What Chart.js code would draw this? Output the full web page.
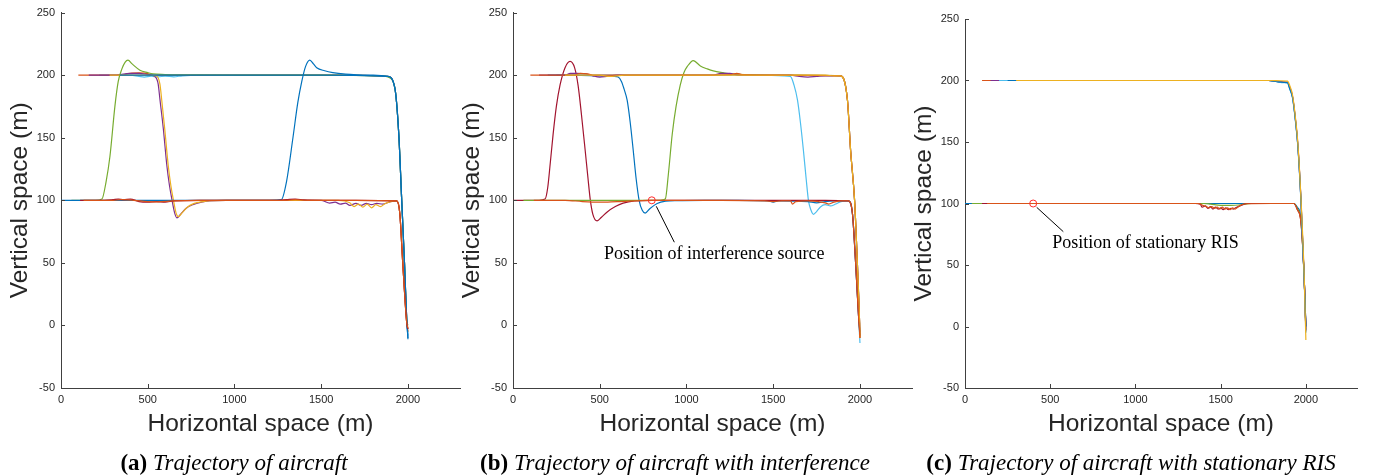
<!DOCTYPE html>
<html><head><meta charset="utf-8">
<script src="https://cdn.jsdelivr.net/npm/chart.js@4.4.1/dist/chart.umd.min.js"></script>
<style>
html,body{margin:0;padding:0;background:#fff;width:1384px;height:476px;overflow:hidden;position:relative;}
canvas{position:absolute;top:0;}
.cap{position:absolute;top:449px;font-family:'Liberation Serif','Times New Roman',serif;font-size:23px;color:#000;white-space:nowrap;transform:translateX(-50%);line-height:28px;}
</style></head><body>
<canvas id="ca" width="470" height="476" style="left:0px"></canvas>
<canvas id="cb" width="470" height="476" style="left:452px"></canvas>
<canvas id="cc" width="463" height="476" style="left:904px"></canvas>
<div class="cap" style="left:234px"><b>(a)</b> <i>Trajectory of aircraft</i></div>
<div class="cap" style="left:675px"><b>(b)</b> <i>Trajectory of aircraft with interference</i></div>
<div class="cap" style="left:1131px"><b>(c)</b> <i>Trajectory of aircraft with stationary RIS</i></div>
<script>
// ---------- tick labels ----------
const xTicks = [0, 500, 1000, 1500, 2000];
const yTicks = [-50, 0, 50, 100, 150, 200, 250];

// ---------- (a) Trajectory of aircraft ----------
const aBlueX = [0, 300, 600, 900, 1200, 1270, 1300, 1337, 1365, 1388, 1410, 1434, 1455, 1474, 1520, 1567, 1640, 1705, 1800, 1884, 1924, 1947, 1964, 1980, 1993, 2000];
const aBlueY = [100, 100, 100, 100, 100, 100.5, 115, 150, 178, 195, 207, 212, 209, 206, 203.5, 202, 200.8, 200.3, 200, 199, 190, 153, 100, 50, 5, -11];
const aGreenX = [60, 200, 236, 260, 282, 311, 330, 351, 370, 386, 410, 455, 500, 530, 600, 700, 1000, 1500, 1850, 1884, 1924, 1947, 1964, 1980, 1993, 2000];
const aGreenY = [100, 100, 101, 115, 135, 175.5, 195, 205, 210.5, 212, 209, 204, 202, 201, 200.5, 200.2, 200, 200, 199.5, 198.5, 190, 153, 100, 50, 5, 0];
const aPurpleX = [160, 300, 400, 450, 500, 541, 560, 570, 590, 610, 625, 639, 655, 668, 690, 720, 760, 810, 858, 950, 1100, 1300, 1500, 1549, 1580, 1610, 1640, 1665, 1700, 1730, 1760, 1790, 1820, 1855, 1900, 1935, 1953, 1970, 1993, 2000];
const aPurpleY = [200, 200, 201.5, 201.5, 200.5, 199, 193, 181, 157, 128, 112, 101, 90, 86, 89, 93.5, 96.5, 98.5, 99.5, 100, 100, 100, 100, 97.8, 98.5, 97, 97.8, 96, 97.5, 96, 97.5, 96.5, 97.5, 97, 99, 99.5, 89.5, 50, 2, -5];
const aYellowX = [280, 400, 500, 550, 570, 580, 598, 618, 633, 647, 663, 676, 698, 728, 768, 818, 866, 950, 1300, 1600, 1665, 1690, 1715, 1740, 1765, 1790, 1815, 1840, 1870, 1900, 1935, 1953, 1970, 1993, 2000];
const aYellowY = [200, 200, 200, 199.5, 193, 181, 157, 128, 112, 101, 90, 87, 90, 94.5, 97.5, 99, 99.8, 100, 100, 100, 98, 95, 97, 94.5, 97, 94, 96.5, 95, 97.5, 99, 99.5, 89.5, 50, 2, -5];
const aOrangeX = [100, 350, 380, 409, 450, 500, 520, 800, 1200, 1600, 1884, 1924, 1947, 1964, 1980, 1993, 2000];
const aOrangeY = [200, 200, 201, 201.7, 201.8, 201.3, 200, 200, 200, 200, 199, 190, 153, 100, 50, 5, -3];
const aLightBlueX = [220, 400, 450, 480, 520, 560, 600, 650, 700, 800, 1200, 1600, 1884, 1924, 1947, 1964, 1980, 1993, 2000];
const aLightBlueY = [200, 200, 199, 198.5, 199.2, 198.6, 199.3, 198.7, 199.5, 200, 200, 200, 199, 190, 153, 100, 50, 5, -8];
const aDarkRedX = [110, 250, 300, 330, 360, 400, 450, 500, 550, 600, 650, 800, 1000, 1250, 1300, 1350, 1400, 1500, 1700, 1935, 1953, 1970, 1993, 2000];
const aDarkRedY = [100, 100, 100.5, 101, 100.5, 101, 99, 98.5, 99, 98.5, 99.5, 100, 100, 100, 100.5, 101, 100.3, 100, 100, 99.5, 89.5, 50, 2, -3];
const aBlue2X = [340, 500, 1000, 1500, 1884, 1924, 1947, 1964, 1980, 1993, 2000];
const aBlue2Y = [200, 200, 200, 200, 199, 190, 153, 100, 50, 5, -10];
const aOrange2X = [130, 300, 350, 420, 500, 560, 640, 800, 1000, 1300, 1350, 1420, 1500, 1700, 1935, 1953, 1970, 1993, 2000];
const aOrange2Y = [100, 100, 100.5, 100, 99, 98.8, 99.5, 100, 100, 100, 100.5, 100, 100, 100, 99.5, 89.5, 50, 2, -2];

// ---------- (b) Trajectory of aircraft with interference ----------
const bDarkRedX = [0, 150, 185, 200, 215, 231, 250, 271, 300, 329, 355, 375, 395, 416, 432, 445, 460, 485, 510, 543, 590, 635, 700, 800, 1000, 1200, 1400, 1600, 1800, 1934, 1957, 1975, 1993, 2000];
const bDarkRedY = [100, 100, 101, 110, 130, 152.5, 175, 192, 206, 211, 206, 192, 168, 140, 118, 101, 89, 83.5, 86.5, 90.7, 95, 97.7, 99.5, 100, 100, 100, 100, 100, 100, 99.5, 89, 50, 5, -5];
const bBlueX = [200, 300, 500, 580, 606, 625, 640, 658, 675, 693, 710, 727, 745, 762, 790, 831, 880, 950, 1100, 1300, 1470, 1500, 1530, 1700, 1750, 1800, 1850, 1934, 1957, 1975, 1993, 2000];
const bBlueY = [200, 200, 199.5, 199, 198.5, 195, 189, 180, 163, 140, 117, 100, 92, 89.8, 93.5, 97.5, 99.3, 99.8, 100, 100, 99.5, 98.5, 99.5, 99, 98, 99, 99.5, 99.5, 89, 50, 5, -8];
const bGreenX = [60, 500, 700, 850, 878, 895, 918, 940, 964, 985, 1005, 1039, 1080, 1120, 1155, 1210, 1270, 1400, 1600, 1888, 1928, 1946, 1969, 1985, 1998, 2000];
const bGreenY = [100, 100, 100, 100, 101, 120, 153, 175, 192, 202, 207, 211.7, 207.4, 205, 203.4, 202, 200.8, 200.3, 200, 199.5, 180, 140, 100, 50, 2, -8];
const bLightBlueX = [250, 500, 1000, 1400, 1560, 1599, 1620, 1640, 1657, 1674, 1690, 1703, 1718, 1732, 1750, 1772, 1800, 1830, 1860, 1890, 1934, 1957, 1975, 1993, 2000];
const bLightBlueY = [200, 200, 200, 200, 199.5, 199, 192, 180, 162, 140, 117, 100, 92, 88.8, 91, 94.7, 96.5, 95.5, 97, 99, 99.5, 89, 50, 5, -14];
const bPurpleX = [150, 300, 330, 370, 420, 460, 500, 540, 600, 800, 1000, 1150, 1200, 1250, 1300, 1600, 1650, 1700, 1750, 1800, 1888, 1928, 1946, 1969, 1985, 1998, 2000];
const bPurpleY = [200, 200, 201.5, 201.5, 201, 199.5, 198.5, 199, 200, 200, 200, 200, 201.5, 201.5, 200, 200, 199, 198.5, 199, 199.5, 199.5, 180, 140, 100, 50, 2, -10];
const bOrange2X = [100, 350, 390, 430, 470, 1000, 1260, 1290, 1320, 1500, 1888, 1928, 1946, 1969, 1985, 1998, 2000];
const bOrange2Y = [200, 200, 201.5, 201, 200, 200, 200.5, 201.5, 200.5, 200, 199.5, 180, 140, 100, 50, 2, -9];
const bYellowX = [300, 500, 560, 600, 640, 1000, 1500, 1800, 1850, 1888, 1928, 1946, 1969, 1985, 1998, 2000];
const bYellowY = [200, 200, 199, 199.5, 200, 200, 200, 200, 199.5, 199.5, 180, 140, 100, 50, 2, -10];
const bOrangeX = [120, 300, 400, 500, 600, 800, 1000, 1200, 1450, 1500, 1550, 1600, 1611, 1630, 1700, 1800, 1820, 1850, 1900, 1934, 1957, 1975, 1993, 2000];
const bOrangeY = [100, 100, 99, 98.5, 99, 100, 100, 100, 99.5, 99, 99.5, 99.5, 97, 99, 99.5, 98, 97, 98.5, 99.5, 99.5, 89, 50, 5, -10];
const bSourceX = [800];
const bSourceY = [100];

// ---------- (c) Trajectory of aircraft with stationary RIS ----------
const cBlueX = [0, 500, 1000, 1500, 1929, 1950, 1971, 1990, 2000];
const cBlueY = [100, 100, 100, 100, 100, 97, 88, 40, 0];
const cGreenX = [40, 500, 1000, 1400, 1440, 1500, 1560, 1620, 1680, 1929, 1950, 1971, 1990, 2000];
const cGreenY = [100, 100, 100, 100, 99.5, 98.5, 98.5, 99, 100, 100, 96, 86, 40, -2];
const cDarkRedX = [100, 500, 1000, 1350, 1380, 1392, 1410, 1425, 1440, 1455, 1470, 1485, 1500, 1515, 1530, 1545, 1560, 1575, 1588, 1620, 1659, 1800, 1929, 1950, 1971, 1990, 2000];
const cDarkRedY = [100, 100, 100, 100, 99.5, 97, 98, 96, 97.5, 95.5, 97, 95.5, 96.5, 95, 96.5, 95, 96, 95.5, 96.5, 98.5, 100, 100, 100, 95, 85, 40, 0];
const cOrangeX = [130, 500, 1000, 1370, 1395, 1415, 1432, 1448, 1465, 1480, 1495, 1510, 1525, 1540, 1555, 1570, 1585, 1610, 1650, 1800, 1929, 1950, 1971, 1990, 2000];
const cOrangeY = [100, 100, 100, 100, 98.5, 97.5, 96.5, 97.5, 96, 97, 95.5, 97, 95.5, 96.5, 95, 96.5, 95.5, 98, 99.8, 100, 100, 95, 85, 40, -3];
const cOrange2X = [100, 500, 1000, 1500, 1780, 1830, 1870, 1892, 1905, 1922, 1941, 1953, 1971, 1990, 2000];
const cOrange2Y = [200, 200, 200, 200, 200, 199.3, 198.8, 198.6, 194.5, 187, 166, 148, 104, 41, -4];
const cPurpleX = [150, 500, 1000, 1500, 1780, 1830, 1870, 1892, 1905, 1922, 1941, 1953, 1971, 1990, 2000];
const cPurpleY = [200, 200, 200, 200, 200, 199.2, 198.7, 198.5, 194, 186.6, 165, 147, 103.5, 40, -3];
const cLightBlueX = [200, 500, 1000, 1500, 1780, 1830, 1870, 1892, 1905, 1922, 1941, 1953, 1971, 1990, 2000];
const cLightBlueY = [200, 200, 200, 200, 200, 199, 198.3, 198, 193, 185.5, 164, 146, 102, 38, -5];
const cBlue2X = [250, 500, 1000, 1500, 1780, 1830, 1870, 1892, 1905, 1922, 1941, 1953, 1971, 1990, 2000];
const cBlue2Y = [200, 200, 200, 200, 200, 199, 198.5, 198.3, 193.5, 186, 165, 147, 103, 40, 0];
const cYellowX = [300, 500, 1000, 1500, 1800, 1850, 1892, 1905, 1922, 1941, 1953, 1971, 1990, 2000];
const cYellowY = [200, 200, 200, 200, 200, 199.8, 199.5, 196, 188, 167, 149, 105, 42, -11];
const cRisX = [400];
const cRisY = [100];

// ---------- colours ----------
const C = {blue:'#0072BD', orange:'#D95319', yellow:'#EDB120', purple:'#7E2F8E', green:'#77AC30', lightblue:'#4DBEEE', darkred:'#A2142F'};

function pts(xs, ys){ return xs.map((x,i)=>({x:x, y:ys[i]})); }
function line(xs, ys, color){
  return {data: pts(xs,ys), borderColor: color, backgroundColor: color, borderWidth: 1.2,
          pointRadius: 0, fill: false, cubicInterpolationMode: 'monotone'};
}
function marker(xs, ys){
  return {data: pts(xs,ys), showLine: false, borderColor: '#FF2A2A', backgroundColor: 'rgba(0,0,0,0)',
          pointRadius: 3.5, pointBorderWidth: 1, pointStyle: 'circle'};
}

// Draw inward tick marks and annotation (all through the library scales)
const axisDeco = {
  id: 'axisDeco',
  afterDraw(chart, args, opts) {
    const {ctx, chartArea:{left, bottom}, scales:{x, y}} = chart;
    ctx.save();
    ctx.strokeStyle = '#404040'; ctx.lineWidth = 1;
    ctx.beginPath();
    x.ticks.forEach(t => { const p = Math.round(x.getPixelForValue(t.value)) + 0.5; ctx.moveTo(p, bottom); ctx.lineTo(p, bottom - 4); });
    y.ticks.forEach(t => { const p = Math.round(y.getPixelForValue(t.value)) + 0.5; ctx.moveTo(left, p); ctx.lineTo(left + 4, p); });
    ctx.stroke();
    const n = opts.note;
    if (n) {
      ctx.strokeStyle = '#000'; ctx.lineWidth = 1;
      ctx.beginPath();
      ctx.moveTo(x.getPixelForValue(n.x1), y.getPixelForValue(n.y1));
      ctx.lineTo(x.getPixelForValue(n.x2), y.getPixelForValue(n.y2));
      ctx.stroke();
      ctx.fillStyle = '#000';
      ctx.font = "18px 'Liberation Serif', 'Times New Roman', serif";
      ctx.textAlign = 'center'; ctx.textBaseline = 'middle';
      ctx.fillText(n.text, x.getPixelForValue(n.tx), y.getPixelForValue(n.ty));
    }
    ctx.restore();
  }
};

function makeChart(id, datasets, topPad, note){
  const tickFont = {family: "'Liberation Sans', Arial, sans-serif", size: 11};
  const titleFont = {family: "'Liberation Sans', Arial, sans-serif", size: 24.5};
  return new Chart(document.getElementById(id), {
    type: 'line',
    data: {datasets: datasets.slice().reverse()},
    plugins: [axisDeco],
    options: {
      responsive: false, animation: false, devicePixelRatio: 1,
      layout: {padding: {top: topPad, right: 10, left: 0, bottom: 0}},
      plugins: {legend: {display: false}, tooltip: {enabled: false}, axisDeco: {note: note}},
      scales: {
        x: {type: 'linear', min: 0, max: 2300,
            afterBuildTicks: s => { s.ticks = xTicks.map(v => ({value: v})); },
            afterFit: s => { s.height = 88; },
            grid: {display: false, drawTicks: false},
            border: {display: true, color: '#404040', width: 1},
            ticks: {font: tickFont, color: '#262626', padding: 5, maxRotation: 0, autoSkip: false, callback: v => String(v)},
            title: {display: true, text: 'Horizontal space (m)', font: titleFont, color: '#262626', padding: {top: 0, bottom: 37}}},
        y: {type: 'linear', min: -50, max: 250,
            afterBuildTicks: s => { s.ticks = yTicks.map(v => ({value: v})); },
            afterFit: s => { s.width = 61; },
            grid: {display: false, drawTicks: false},
            border: {display: true, color: '#404040', width: 1},
            ticks: {font: tickFont, color: '#262626', padding: 6, autoSkip: false, callback: v => String(v)},
            title: {display: true, text: 'Vertical space (m)', font: titleFont, color: '#262626', padding: {top: 6, bottom: 0}}}
      }
    }
  });
}

makeChart('ca', [
  line(aLightBlueX, aLightBlueY, C.lightblue),
  line(aOrangeX, aOrangeY, C.orange),
  line(aPurpleX, aPurpleY, C.purple),
  line(aYellowX, aYellowY, C.yellow),
  line(aGreenX, aGreenY, C.green),
  line(aBlueX, aBlueY, C.blue),
  line(aBlue2X, aBlue2Y, C.blue),
  line(aDarkRedX, aDarkRedY, C.darkred),
  line(aOrange2X, aOrange2Y, C.orange)
], 12, null);

makeChart('cb', [
  line(bLightBlueX, bLightBlueY, C.lightblue),
  line(bBlueX, bBlueY, C.blue),
  line(bDarkRedX, bDarkRedY, C.darkred),
  line(bGreenX, bGreenY, C.green),
  line(bPurpleX, bPurpleY, C.purple),
  line(bOrange2X, bOrange2Y, C.orange),
  line(bYellowX, bYellowY, C.yellow),
  line(bOrangeX, bOrangeY, C.orange),
  marker(bSourceX, bSourceY)
], 12, {x1: 826, y1: 95.2, x2: 930, y2: 66.5, tx: 1160, ty: 56.9, text: 'Position of interference source'});

makeChart('cc', [
  line(cBlueX, cBlueY, C.blue),
  line(cGreenX, cGreenY, C.green),
  line(cDarkRedX, cDarkRedY, C.darkred),
  line(cOrangeX, cOrangeY, C.orange),
  line(cOrange2X, cOrange2Y, C.orange),
  line(cPurpleX, cPurpleY, C.purple),
  line(cLightBlueX, cLightBlueY, C.lightblue),
  line(cBlue2X, cBlue2Y, C.blue),
  line(cYellowX, cYellowY, C.yellow),
  marker(cRisX, cRisY)
], 19, {x1: 420.7, y1: 96.9, x2: 576.8, y2: 77.1, tx: 1059, ty: 67.9, text: 'Position of stationary RIS'});
</script>
</body></html>
